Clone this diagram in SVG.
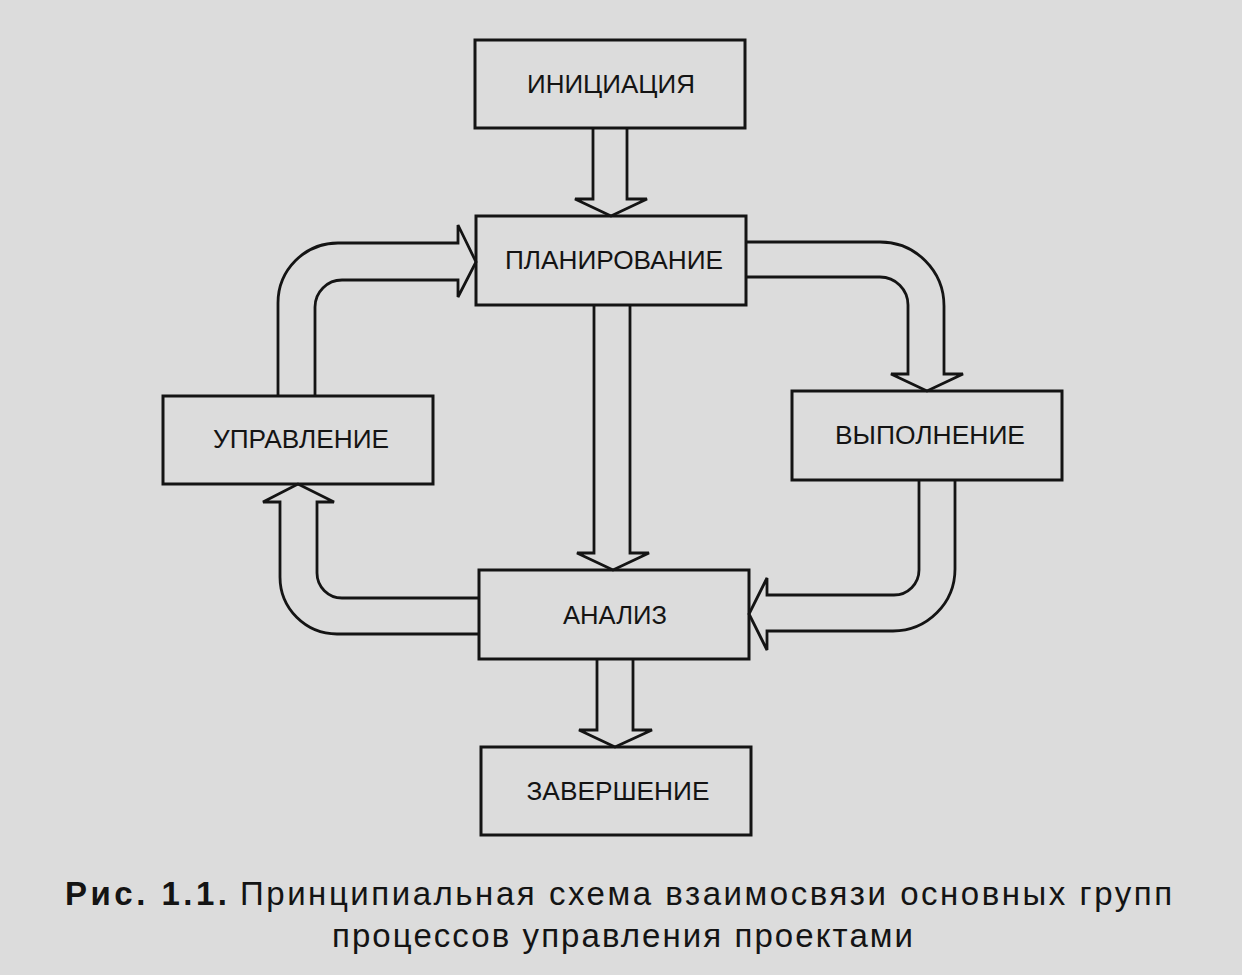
<svg xmlns="http://www.w3.org/2000/svg" width="1242" height="975" viewBox="0 0 1242 975">
  <style>
    .box { fill: none; stroke: #141414; stroke-width: 3; }
    .arrow { fill: none; stroke: #141414; stroke-width: 2.8; stroke-linejoin: miter; }
    .label { font-family: "Liberation Sans", Arial, sans-serif; font-size: 26px; fill: #141414; text-anchor: middle; }
    .cap { font-family: "Liberation Sans", Arial, sans-serif; font-size: 33px; fill: #141414; }
  </style>
  <rect x="0" y="0" width="1242" height="975" fill="#dcdcdc"/>

  <g id="connectors">
    <path class="arrow" d="M593,128 V199 H575 L611,216 L647,199 H627 V128"/>
    <path class="arrow" d="M594,305 V553 H577 L613,570 L649,553 H630 V305"/>
    <path class="arrow" d="M597,659 V730 H579 L615,747 L652,730 H633 V659"/>
    <path class="arrow" d="M746,242 H880 A64,64 0 0 1 944,306 V374 H963 L927,391 L891,374 H908 V305 A28,28 0 0 0 880,277 H746"/>
    <path class="arrow" d="M919,480 V570 A25,25 0 0 1 894,595 H767 V578 L749,614 L767,650 V631 H893 A62,62 0 0 0 955,569 V480"/>
    <path class="arrow" d="M479,634 H337 A57,57 0 0 1 280,577 V502 H263 L298,484 L334,502 H317 V573 A25,25 0 0 0 342,598 H479"/>
    <path class="arrow" d="M278,396 V303 A60,60 0 0 1 338,243 H458 V225 L476,262 L458,297 V280 H342 A27,27 0 0 0 315,307 V396"/>
  </g>

  <g id="node-initiation">
    <rect class="box" x="475" y="40" width="270" height="88"/>
    <text class="label" x="611" y="93" textLength="168" lengthAdjust="spacingAndGlyphs">ИНИЦИАЦИЯ</text>
  </g>
  <g id="node-planning">
    <rect class="box" x="476" y="216" width="270" height="89"/>
    <text class="label" x="614" y="269" textLength="218" lengthAdjust="spacingAndGlyphs">ПЛАНИРОВАНИЕ</text>
  </g>
  <g id="node-execution">
    <rect class="box" x="792" y="391" width="270" height="89"/>
    <text class="label" x="930" y="444" textLength="190" lengthAdjust="spacingAndGlyphs">ВЫПОЛНЕНИЕ</text>
  </g>
  <g id="node-control">
    <rect class="box" x="163" y="396" width="270" height="88"/>
    <text class="label" x="301" y="448" textLength="176" lengthAdjust="spacingAndGlyphs">УПРАВЛЕНИЕ</text>
  </g>
  <g id="node-analysis">
    <rect class="box" x="479" y="570" width="270" height="89"/>
    <text class="label" x="615" y="624" textLength="104" lengthAdjust="spacingAndGlyphs">АНАЛИЗ</text>
  </g>
  <g id="node-completion">
    <rect class="box" x="481" y="747" width="270" height="88"/>
    <text class="label" x="618" y="800" textLength="183" lengthAdjust="spacingAndGlyphs">ЗАВЕРШЕНИЕ</text>
  </g>

  <g id="caption">
    <text class="cap" x="65" y="905" font-weight="bold" textLength="162" lengthAdjust="spacing">Рис. 1.1.</text>
    <text class="cap" x="240" y="905" textLength="932" lengthAdjust="spacing">Принципиальная схема взаимосвязи основных групп</text>
    <text class="cap" x="332" y="947" textLength="581" lengthAdjust="spacing">процессов управления проектами</text>
  </g>
</svg>
